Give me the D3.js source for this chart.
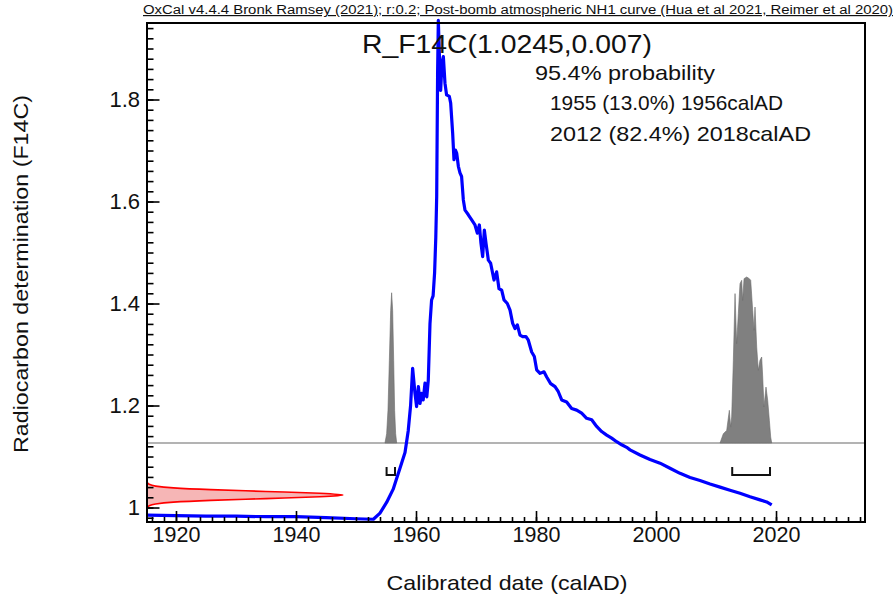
<!DOCTYPE html>
<html><head><meta charset="utf-8">
<script src="https://cdn.jsdelivr.net/npm/d3@7"></script>
<style>body{margin:0;background:#fff}svg{display:block;font-family:Arial,"Liberation Sans",sans-serif}</style>
</head><body><svg id="c" width="896" height="599"></svg>
<script>
// ---- data ----
const curveYears=[1915.2,1920,1925,1930,1935,1940,1945,1950,1952.9,1954.0,1955.1,1956.2,1956.8,1957.33,1958.17,1958.7,1959.1,1959.44,1959.83,1960.1,1960.4,1960.67,1960.94,1961.2,1961.5,1961.8,1962.05,1962.33,1962.6,1962.85,1963.1,1963.3,1963.45,1963.6,1963.72,1963.89,1964.11,1964.33,1964.56,1964.83,1965.1,1965.56,1965.78,1966.11,1966.33,1966.56,1966.78,1967.06,1967.33,1967.6,1967.89,1968.17,1968.72,1969.28,1969.83,1970.22,1970.56,1970.83,1971.11,1971.39,1971.67,1972.06,1972.44,1973.0,1973.44,1973.83,1974.28,1974.67,1975.22,1975.67,1976.11,1976.5,1976.89,1977.33,1977.78,1978.33,1978.72,1979.28,1979.72,1980.11,1980.67,1981.33,1981.78,1982.44,1983.17,1983.72,1984.28,1985.11,1985.94,1986.78,1987.61,1988.44,1989.28,1990.11,1990.94,1991.78,1992.61,1993.44,1994.28,1995.11,1995.67,1997.33,1999.0,2000.67,2002.33,2004.0,2005.67,2007.33,2009.0,2010.67,2012.33,2014.0,2015.67,2017.33,2018.44,2019.28];
const curveF14C=[0.985,0.984,0.983,0.983,0.982,0.982,0.980,0.978,0.977,0.989,1.010,1.036,1.058,1.077,1.108,1.150,1.200,1.273,1.224,1.198,1.237,1.204,1.224,1.211,1.244,1.217,1.250,1.360,1.407,1.415,1.460,1.530,1.610,1.850,1.955,1.890,1.818,1.871,1.884,1.832,1.809,1.806,1.793,1.734,1.682,1.701,1.695,1.669,1.656,1.649,1.603,1.583,1.574,1.564,1.554,1.538,1.554,1.518,1.492,1.544,1.518,1.485,1.479,1.446,1.462,1.429,1.426,1.407,1.400,1.387,1.361,1.351,1.358,1.338,1.335,1.335,1.328,1.305,1.296,1.270,1.263,1.266,1.256,1.243,1.237,1.227,1.211,1.207,1.194,1.191,1.185,1.175,1.172,1.159,1.149,1.142,1.136,1.129,1.123,1.118,1.113,1.103,1.094,1.087,1.077,1.067,1.059,1.053,1.046,1.040,1.034,1.028,1.021,1.015,1.011,1.005];

const peak1Years=[1954.83,1955.11,1955.33,1955.56,1955.78,1955.94,1956.11,1956.28,1956.44,1956.61,1956.78];
const peak1Prob=[0,0.056,0.197,0.498,0.799,0.905,0.799,0.498,0.197,0.056,0];

const peak2Years=[2010.67,2011.22,2011.78,2012.22,2012.44,2012.61,2012.89,2013.17,2013.44,2013.72,2014.0,2014.28,2014.44,2014.67,2015.11,2015.55,2015.78,2016.11,2016.33,2016.5,2016.78,2017.05,2017.33,2017.61,2017.78,2018.0,2018.33,2018.61,2018.89,2019.11,2019.28];
const peak2Prob=[0,0.056,0.076,0.197,0.096,0.157,0.498,0.90,0.598,0.779,0.960,0.980,0.859,0.990,1.0,0.990,0.980,0.799,0.679,0.819,0.578,0.438,0.498,0.518,0.398,0.217,0.337,0.257,0.137,0.036,0];

const rangeStarts=[1955.1,2012.7];
const rangeEnds=[1956.5,2019.0];

const measLevels=[1.0000,1.0035,1.0070,1.0105,1.0140,1.0175,1.0210,1.0245,1.0280,1.0315,1.0350,1.0385,1.0420,1.0455,1.0490];
const measDensity=[0.002,0.011,0.044,0.135,0.325,0.607,0.882,1,0.882,0.607,0.325,0.135,0.044,0.011,0.002];

const xTickValues=[1920,1940,1960,1980,2000,2020];
const yTickValues=[1.0,1.2,1.4,1.6,1.8];
const yTickLabels=["1","1.2","1.4","1.6","1.8"];

const headerText="OxCal v4.4.4 Bronk Ramsey (2021); r:0.2; Post-bomb atmospheric NH1 curve (Hua et al 2021, Reimer et al 2020)";
const titleText="R_F14C(1.0245,0.007)";
const probLines=["95.4% probability","1955 (13.0%) 1956calAD","2012 (82.4%) 2018calAD"];
const xAxisTitle="Calibrated date (calAD)";
const yAxisTitle="Radiocarbon determination (F14C)";

// ---- layout ----
const F={left:147,right:865,top:23,bottom:522};
const svg=d3.select("#c");
const x=d3.scaleLinear().domain([1915.17,2034.83]).range([F.left,F.right]);
const y=d3.scaleLinear().domain([0.9716,1.950]).range([F.bottom,F.top]);
const pH=d3.scaleLinear().domain([0,1]).range([0,166]);   // calibrated prob height
const mW=d3.scaleLinear().domain([0,1]).range([0,196]);   // measurement width
const distBase=y(1.1265);

// gray baseline
svg.append("line").attr("x1",F.left).attr("x2",F.right).attr("y1",distBase).attr("y2",distBase)
  .attr("stroke","#9a9a9a").attr("stroke-width",1.5);

// calibrated distributions
const gArea=d3.area().x(d=>x(d[0])).y0(distBase).y1(d=>distBase-pH(d[1]));
[[peak1Years,peak1Prob],[peak2Years,peak2Prob]].forEach(([ys,ps])=>{
  svg.append("path").datum(ys.map((v,i)=>[v,ps[i]])).attr("d",gArea)
    .attr("fill","#808080").attr("stroke","#6a6a6a").attr("stroke-width",0.6);
});

// range brackets
rangeStarts.forEach((s,i)=>{
  const x0=x(s),x1=x(rangeEnds[i]),yt=distBase+24,yb=distBase+32;
  svg.append("path").attr("d",`M${x0},${yt}V${yb}H${x1}V${yt}`)
    .attr("fill","none").attr("stroke","#111").attr("stroke-width",2);
});

// measurement distribution (red, on the y axis)
const mArea=d3.area().curve(d3.curveMonotoneY).y(d=>y(d[0])).x0(F.left).x1(d=>F.left+mW(d[1]));
const mLine=d3.line().curve(d3.curveMonotoneY).y(d=>y(d[0])).x(d=>F.left+mW(d[1]));
const mData=measLevels.map((v,i)=>[v,measDensity[i]]);
svg.append("path").datum(mData).attr("d",mArea).attr("fill","#f6b6b6");
svg.append("path").datum(mData).attr("d",mLine).attr("fill","none").attr("stroke","#ff0000").attr("stroke-width",1.6);

// calibration curve
svg.append("path").datum(curveYears.map((v,i)=>[v,curveF14C[i]]))
  .attr("d",d3.line().x(d=>x(d[0])).y(d=>y(d[1])))
  .attr("fill","none").attr("stroke","#0000ff").attr("stroke-width",3.2).attr("stroke-linejoin","round");

// axes
const xMinor=d3.range(1916,2035,2);
const yMinor=d3.range(0,49).map(i=>0.98+i*0.02);
function style(g){g.select(".domain").remove();g.selectAll("line").attr("stroke","#000").attr("stroke-width",1.6);}
svg.append("g").attr("transform",`translate(0,${F.bottom})`)
  .call(d3.axisBottom(x).tickValues(xMinor).tickSize(-5).tickFormat(""))
  .call(style);
svg.append("g").attr("transform",`translate(0,${F.bottom})`)
  .call(d3.axisBottom(x).tickValues(xTickValues).tickSize(-11).tickPadding(5).tickFormat(d3.format("d")))
  .call(style)
  .call(g=>g.selectAll("text").attr("font-size",21.5).attr("fill","#111").attr("font-family","Arial,'Liberation Sans',sans-serif"));
svg.append("g").attr("transform",`translate(${F.left},0)`)
  .call(d3.axisLeft(y).tickValues(yMinor).tickSize(-6.5).tickFormat(""))
  .call(style);
svg.append("g").attr("transform",`translate(${F.left},0)`)
  .call(d3.axisLeft(y).tickValues(yTickValues).tickSize(-12.5).tickPadding(7).tickFormat((d,i)=>yTickLabels[i]))
  .call(style)
  .call(g=>g.selectAll("text").attr("font-size",22).attr("fill","#111").attr("font-family","Arial,'Liberation Sans',sans-serif"));

// frame
svg.append("rect").attr("x",F.left).attr("y",F.top).attr("width",F.right-F.left).attr("height",F.bottom-F.top)
  .attr("fill","none").attr("stroke","#000").attr("stroke-width",2);

// texts
svg.append("text").attr("x",143).attr("y",14).attr("font-size",12).attr("textLength",750).attr("lengthAdjust","spacingAndGlyphs")
  .attr("text-decoration","underline").attr("fill","#111").text(headerText);
svg.append("text").attr("x",362).attr("y",53).attr("font-size",26).attr("textLength",290).attr("lengthAdjust","spacingAndGlyphs")
  .attr("fill","#111").text(titleText);
const probX=[535,550,550], probY=[80,110,141], probLen=[180,233,261];
probLines.forEach((t,i)=>{
  svg.append("text").attr("x",probX[i]).attr("y",probY[i]).attr("font-size",21).attr("textLength",probLen[i]).attr("lengthAdjust","spacingAndGlyphs")
    .attr("fill","#111").text(t);
});
svg.append("text").attr("x",(F.left+F.right)/2+1).attr("y",590).attr("text-anchor","middle").attr("font-size",21)
  .attr("textLength",241).attr("lengthAdjust","spacingAndGlyphs").attr("fill","#111").text(xAxisTitle);
svg.append("text").attr("transform","translate(28,274) rotate(-90)").attr("text-anchor","middle").attr("font-size",21)
  .attr("textLength",358).attr("lengthAdjust","spacingAndGlyphs").attr("fill","#111").text(yAxisTitle);
</script></body></html>
